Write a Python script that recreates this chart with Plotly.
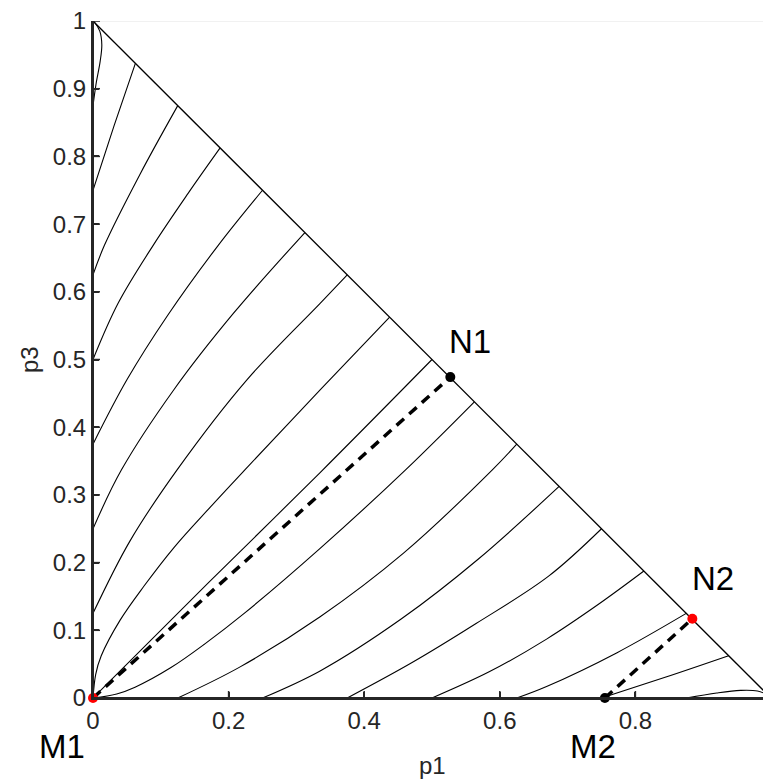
import plotly.graph_objects as go

# ---- data (p1 on x, p3 on y) ----
A_p1 = [0, 0.005, 0.0105, 0.013, 0.010, 0.003, 0]
A_p3 = [0.875, 0.91, 0.94, 0.965, 0.985, 0.997, 1.0]
B_p1 = [0, 0.031, 0.0625]
B_p3 = [0.75, 0.845, 0.9375]
C_p1 = [0, 0.017, 0.069, 0.125]
C_p3 = [0.625, 0.669, 0.773, 0.875]
D_p1 = [0, 0.037, 0.089, 0.14, 0.1875]
D_p3 = [0.5, 0.583, 0.669, 0.745, 0.8125]
E_p1 = [0, 0.05, 0.11, 0.185, 0.25]
E_p3 = [0.375, 0.47, 0.565, 0.669, 0.75]
F_p1 = [0, 0.042, 0.119, 0.207, 0.3125]
F_p3 = [0.25, 0.337, 0.455, 0.568, 0.6875]
G_p1 = [0, 0.054, 0.124, 0.227, 0.335, 0.375]
G_p3 = [0.125, 0.231, 0.337, 0.47, 0.583, 0.625]
H_p1 = [0, 0.004, 0.012, 0.04, 0.075, 0.12, 0.173, 0.224, 0.335, 0.4375]
H_p3 = [0, 0.035, 0.062, 0.115, 0.165, 0.223, 0.282, 0.337, 0.455, 0.5625]
I_p1 = [0, 0.17, 0.335, 0.5]
I_p3 = [0, 0.17, 0.333, 0.5]
J_p1 = [0, 0.035, 0.062, 0.115, 0.165, 0.223, 0.335, 0.461, 0.5625]
J_p3 = [0, 0.006, 0.016, 0.045, 0.08, 0.125, 0.221, 0.337, 0.4375]
K_p1 = [0.125, 0.217, 0.335, 0.458, 0.589, 0.625]
K_p3 = [0, 0.046, 0.120, 0.214, 0.337, 0.375]
L_p1 = [0.25, 0.335, 0.455, 0.568, 0.6875]
L_p3 = [0, 0.040, 0.117, 0.205, 0.3125]
M_p1 = [0.375, 0.47, 0.565, 0.672, 0.75]
M_p3 = [0, 0.052, 0.110, 0.18, 0.25]
N_p1 = [0.5, 0.585, 0.669, 0.745, 0.8125]
N_p3 = [0, 0.039, 0.087, 0.138, 0.1875]
O_p1 = [0.625, 0.669, 0.773, 0.875]
O_p3 = [0, 0.017, 0.067, 0.125]
P_p1 = [0.75, 0.845, 0.9375]
P_p3 = [0, 0.031, 0.0625]
Q_p1 = [0.875, 0.92, 0.955, 0.98, 0.997, 1.0]
Q_p3 = [0, 0.0075, 0.0113, 0.0103, 0.003, 0]

hyp_p1 = [0, 1]
hyp_p3 = [1, 0]

dash1_p1 = [0, 0.527]
dash1_p3 = [0, 0.474]
dash2_p1 = [0.755, 0.884]
dash2_p3 = [0, 0.117]

pt_names = ["M1", "N1", "M2", "N2"]
pt_p1 = [0, 0.527, 0.755, 0.884]
pt_p3 = [0, 0.474, 0, 0.117]
pt_colors = ["#ff0000", "#000000", "#000000", "#ff0000"]

label_p1 = [-0.046, 0.556, 0.737, 0.914]
label_p3 = [-0.071, 0.527, -0.072, 0.177]

x_ticks = [0, 0.2, 0.4, 0.6, 0.8, 1]
x_ticktext = ["0", "0.2", "0.4", "0.6", "0.8", "1"]
y_ticks = [0, 0.1, 0.2, 0.3, 0.4, 0.5, 0.6, 0.7, 0.8, 0.9, 1]
y_ticktext = ["0", "0.1", "0.2", "0.3", "0.4", "0.5", "0.6", "0.7", "0.8", "0.9", "1"]

curves = [(A_p1, A_p3), (B_p1, B_p3), (C_p1, C_p3), (D_p1, D_p3), (E_p1, E_p3),
          (F_p1, F_p3), (G_p1, G_p3), (H_p1, H_p3), (I_p1, I_p3), (J_p1, J_p3),
          (K_p1, K_p3), (L_p1, L_p3), (M_p1, M_p3), (N_p1, N_p3), (O_p1, O_p3),
          (P_p1, P_p3), (Q_p1, Q_p3)]

FONT = "Liberation Sans, Arial, Helvetica, sans-serif"
AXC = "#262626"

fig = go.Figure()
for xs, ys in curves:
    fig.add_trace(go.Scatter(x=xs, y=ys, mode="lines",
                             line=dict(color="black", width=1.1, shape="spline", smoothing=1.0),
                             hoverinfo="skip", showlegend=False))

fig.add_trace(go.Scatter(x=hyp_p1, y=hyp_p3, mode="lines",
                         line=dict(color="black", width=1.3), showlegend=False, hoverinfo="skip"))

for xs, ys in [(dash1_p1, dash1_p3), (dash2_p1, dash2_p3)]:
    fig.add_trace(go.Scatter(x=xs, y=ys, mode="lines",
                             line=dict(color="black", width=3.5, dash="10px,7px"),
                             showlegend=False, hoverinfo="skip", cliponaxis=False))

for name, lx, ly in zip(pt_names, label_p1, label_p3):
    fig.add_annotation(x=lx, y=ly, xref="paper", yref="paper", text=name, showarrow=False,
                       font=dict(family=FONT, size=33, color="black"),
                       xanchor="center", yanchor="middle")

fig.add_annotation(x=0.5, y=-0.100, xref="paper", yref="paper", text="p1", showarrow=False,
                   font=dict(family=FONT, size=24, color=AXC), xanchor="center", yanchor="middle")
fig.add_annotation(x=-0.0935, y=0.5, xref="paper", yref="paper", text="p3", showarrow=False,
                   textangle=-90,
                   font=dict(family=FONT, size=24, color=AXC), xanchor="center", yanchor="middle")

# light top frame line, then dark left / bottom axis lines
fig.add_shape(type="line", xref="x", yref="y", x0=0, y0=1, x1=1, y1=1,
              line=dict(color="#e3e3e3", width=1.2), layer="below")
fig.add_shape(type="line", xref="x", yref="y", x0=0, y0=0, x1=0, y1=1,
              line=dict(color=AXC, width=2), layer="above")
fig.add_shape(type="line", xref="x", yref="y", x0=0, y0=0, x1=1, y1=0,
              line=dict(color=AXC, width=2), layer="above")
# inside tick marks
for tv in x_ticks:
    fig.add_shape(type="line", xref="x", yref="y", ysizemode="pixel", yanchor=0,
                  x0=tv, x1=tv, y0=0, y1=7, line=dict(color=AXC, width=1.5), layer="above")
for tv in y_ticks:
    fig.add_shape(type="line", xref="x", yref="y", xsizemode="pixel", xanchor=0,
                  y0=tv, y1=tv, x0=0, x1=7, line=dict(color=AXC, width=1.5), layer="above")

fig.add_trace(go.Scatter(x=pt_p1, y=pt_p3, mode="markers",
                         marker=dict(color=pt_colors, size=10, line=dict(width=0)),
                         showlegend=False, cliponaxis=False, hoverinfo="skip"))

fig.update_xaxes(range=[0, 1], tickvals=x_ticks, ticktext=x_ticktext,
                 showgrid=False, zeroline=False, showline=True, linecolor=AXC, linewidth=2,
                 ticks="inside", ticklen=6, tickwidth=1.5, tickcolor=AXC,
                 ticklabeloverflow="allow",
                 tickfont=dict(family=FONT, size=24, color=AXC))
fig.update_yaxes(range=[0, 1], tickvals=y_ticks, ticktext=y_ticktext,
                 showgrid=False, zeroline=False, showline=True, linecolor=AXC, linewidth=2,
                 ticks="inside", ticklen=6, tickwidth=1.5, tickcolor=AXC,
                 ticklabeloverflow="allow", ticksuffix="\u00a0",
                 tickfont=dict(family=FONT, size=24, color=AXC))

fig.update_layout(width=763, height=772, margin=dict(l=85, r=0, t=13, b=82, autoexpand=False),
                  plot_bgcolor="white", paper_bgcolor="white", showlegend=False)

fig.write_html("out.html")
